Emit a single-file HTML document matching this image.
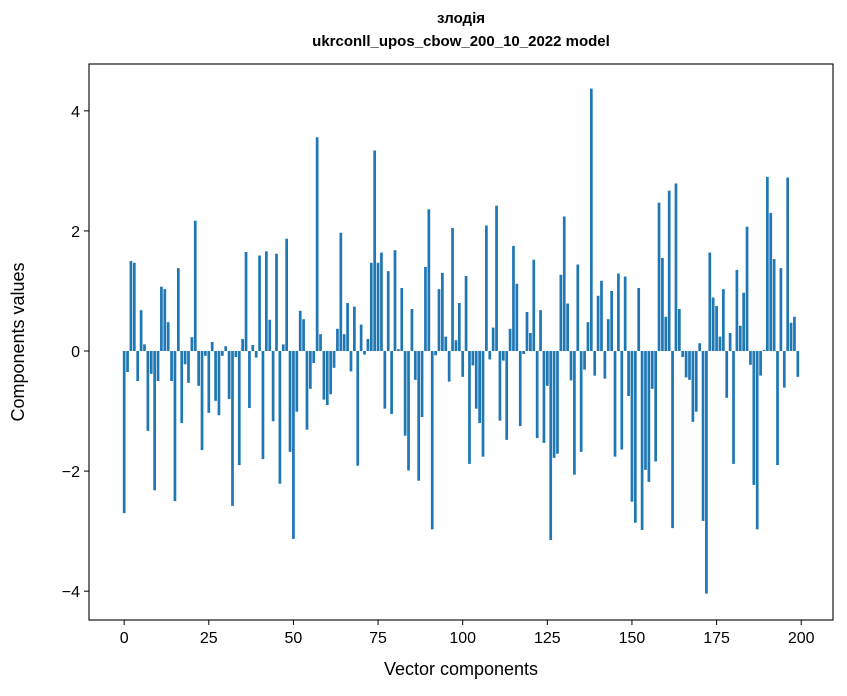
<!DOCTYPE html>
<html><head><meta charset="utf-8"><style>
body{margin:0;background:#fff;}
svg{display:block;font-family:"Liberation Sans","DejaVu Sans",sans-serif;}
</style></head><body>
<svg id="chart" width="847" height="696" viewBox="0 0 847 696" xmlns="http://www.w3.org/2000/svg">
<rect width="847" height="696" fill="#fff"/>
<text x="461" y="23" text-anchor="middle" font-size="15" font-weight="bold">злодія</text>
<text x="461" y="46" text-anchor="middle" font-size="15" font-weight="bold">ukrconll_upos_cbow_200_10_2022 model</text>
<g id="bars"></g>
<g id="axes"></g>
<text x="461" y="675" text-anchor="middle" font-size="18">Vector components</text>
<text transform="translate(24,342) rotate(-90)" text-anchor="middle" font-size="18">Components values</text>
</svg>
<script>
const values = [-2.70,-0.35,1.50,1.47,-0.50,0.68,0.11,-1.33,-0.38,-2.32,-0.50,1.07,1.03,0.48,-0.50,-2.50,1.38,-1.20,-0.22,-0.53,
0.23,2.17,-0.58,-1.65,-0.08,-1.03,0.15,-0.83,-1.07,-0.08,0.08,-0.80,-2.58,-0.10,-1.90,0.20,1.65,-0.95,0.10,-0.11,
1.59,-1.80,1.66,0.52,-1.17,1.62,-2.21,0.11,1.87,-1.68,-3.13,-1.01,0.67,0.53,-1.31,-0.63,-0.20,3.56,0.28,-0.81,
-0.90,-0.72,-0.28,0.37,1.97,0.28,0.80,-0.34,0.74,-1.91,0.44,-0.06,0.20,1.47,3.34,1.47,1.64,-0.96,1.33,-1.05,
1.68,0.03,1.05,-1.41,-1.99,0.70,-0.48,-2.16,-1.10,1.40,2.36,-2.97,-0.07,1.03,1.30,0.24,-0.51,2.05,0.18,0.80,
-0.43,1.25,-1.88,-0.24,-0.96,-1.20,-1.76,2.09,-0.14,0.39,2.42,-1.16,-0.16,-1.48,0.37,1.75,1.12,-1.25,-0.05,0.65,
0.30,1.52,-1.45,0.68,-1.53,-0.58,-3.15,-1.78,-1.71,1.27,2.24,0.79,-0.49,-2.06,1.44,-1.68,-0.31,0.48,4.37,-0.41,
0.92,1.17,-0.46,0.53,1.00,-1.76,1.29,-1.64,1.24,-0.75,-2.51,-2.86,1.05,-2.98,-1.98,-2.18,-0.63,-1.84,2.47,1.55,
0.57,2.67,-2.95,2.79,0.70,-0.10,-0.44,-0.48,-1.18,-1.01,0.13,-2.83,-4.04,1.64,0.89,0.75,0.24,1.03,-0.78,0.30,
-1.88,1.35,0.42,0.97,2.07,-0.23,-2.23,-2.97,-0.41,0.02,2.90,2.30,1.53,-1.90,1.38,-0.61,2.89,0.47,0.57,-0.43];
const xTicks = [0,25,50,75,100,125,150,175,200];
const yTicks = [-4,-2,0,2,4];
const yTickLabels = ["\u22124","\u22122","0","2","4"];

const L=89,R=833,T=64,B=620;
const xMin=-10.39,xMax=209.39,yMin=-4.48,yMax=4.78;
function xs(v){return L+(v-xMin)/(xMax-xMin)*(R-L);}
function ys(v){return B-(v-yMin)/(yMax-yMin)*(B-T);}
const NS="http://www.w3.org/2000/svg";
const bars=document.getElementById('bars');
values.forEach((v,i)=>{
  const r=document.createElementNS(NS,'rect');
  const x0=xs(i-0.4),x1=xs(i+0.4);
  const y0=ys(Math.max(v,0)),y1=ys(Math.min(v,0));
  r.setAttribute('x',x0);r.setAttribute('width',x1-x0);
  r.setAttribute('y',y0);r.setAttribute('height',Math.max(y1-y0,0.3));
  r.setAttribute('fill','#1f77b4');
  
  
  bars.appendChild(r);
});
const axes=document.getElementById('axes');
const frame=document.createElementNS(NS,'rect');
frame.setAttribute('x',L);frame.setAttribute('y',T);frame.setAttribute('width',R-L);frame.setAttribute('height',B-T);
frame.setAttribute('fill','none');frame.setAttribute('stroke','#000');frame.setAttribute('stroke-width','1.1');


axes.appendChild(frame);
xTicks.forEach(t=>{
  const x=xs(t);
  const l=document.createElementNS(NS,'line');
  l.setAttribute('x1',x);l.setAttribute('x2',x);l.setAttribute('y1',B);l.setAttribute('y2',B+5);
  l.setAttribute('stroke','#000');
  
  
  axes.appendChild(l);
  const tx=document.createElementNS(NS,'text');
  tx.setAttribute('x',x);tx.setAttribute('y',B+23);tx.setAttribute('text-anchor','middle');tx.setAttribute('font-size','16');
  tx.textContent=t;
  
  
  axes.appendChild(tx);
});
yTicks.forEach((t,i)=>{
  const y=ys(t);
  const l=document.createElementNS(NS,'line');
  l.setAttribute('x1',L-5);l.setAttribute('x2',L);l.setAttribute('y1',y);l.setAttribute('y2',y);
  l.setAttribute('stroke','#000');
  
  
  axes.appendChild(l);
  const tx=document.createElementNS(NS,'text');
  tx.setAttribute('x',L-9);tx.setAttribute('y',y+6);tx.setAttribute('text-anchor','end');tx.setAttribute('font-size','16');
  tx.textContent=yTickLabels[i];
  
  
  axes.appendChild(tx);
});
</script>
</body></html>
